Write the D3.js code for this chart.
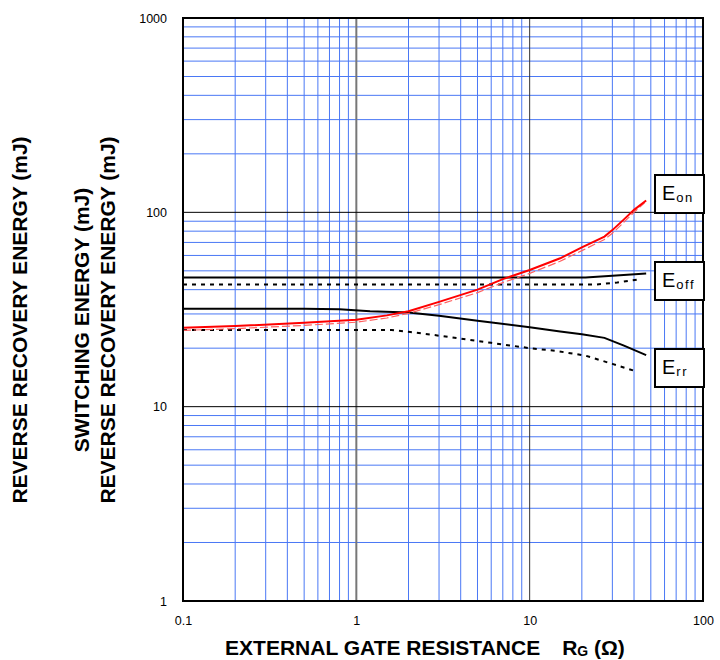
<!DOCTYPE html>
<html>
<head>
<meta charset="utf-8">
<script src="https://cdn.jsdelivr.net/npm/d3@7"></script>
<style>
body { margin: 0; background: #fff; }
svg { display: block; font-family: "Liberation Sans", Arial, sans-serif; }
</style>
</head>
<body>
<svg width="720" height="660"></svg>
<script>
// values (Rg in ohm, energy in mJ)
var rgTicks = [0.1, 1, 10, 100];
var energyTicks = [1, 10, 100, 1000];

var eonRg      = [0.1, 0.2, 0.5, 1, 1.5, 2, 3, 5, 7, 10, 15, 20, 27, 30, 35, 40, 47];
var eonSolid   = [25.5, 26.0, 27.0, 28.0, 29.5, 31.0, 34.6, 40.0, 45.3, 50.5, 58, 66, 75, 81, 92, 103, 115];
var eonDashRg  = [0.1, 0.2, 0.5, 1, 1.5, 2, 3, 5, 7, 10, 15, 20, 27, 30, 35, 40, 46];
var eonDash    = [24.7, 25.2, 26.2, 27.2, 28.6, 30.2, 33.5, 38.6, 43.5, 48.5, 56, 63.5, 72.5, 78, 89, 100, 112];

var eoffRg     = [0.1, 21, 30, 47];
var eoffSolid  = [46.2, 46.2, 47.2, 48.5];
var eoffDashRg = [0.1, 24, 32, 44];
var eoffDash   = [42.5, 42.5, 43.5, 45.4];

var errRg      = [0.1, 0.5, 0.8, 1.2, 2, 3, 5, 10, 15, 20, 27, 35, 47];
var errSolid   = [31.9, 31.9, 31.7, 31.0, 30.5, 29.4, 27.7, 25.6, 24.4, 23.6, 22.6, 20.6, 18.4];
var errDashRg  = [0.1, 1.6, 2, 2.5, 4, 6, 10, 14, 21, 30, 42];
var errDash    = [24.8, 24.8, 24.3, 23.7, 22.4, 21.3, 20.0, 19.4, 18.3, 16.6, 15.1];

var labelNames = [["E", "on"], ["E", "off"], ["E", "rr"]];

var svg = d3.select("svg");
var plotL = 183, plotR = 703, plotT = 18, plotB = 601;

var x = d3.scaleLog().domain([0.1, 100]).range([plotL, plotR]);
var y = d3.scaleLog().domain([1, 1000]).range([plotB, plotT]);

function isDecade(v) {
  var l = Math.log10(v);
  return Math.abs(l - Math.round(l)) < 1e-9;
}

// minor grid (blue)
var grid = svg.append("g").attr("class", "grid");
grid.selectAll("line.vx")
  .data(x.ticks().filter(function(d) { return !isDecade(d); }))
  .enter().append("line")
    .attr("x1", function(d) { return x(d); })
    .attr("x2", function(d) { return x(d); })
    .attr("y1", plotT).attr("y2", plotB)
    .attr("stroke", "#4a78f5").attr("stroke-width", 1);

grid.selectAll("line.hy")
  .data(y.ticks().filter(function(d) { return !isDecade(d); }))
  .enter().append("line")
    .attr("y1", function(d) { return y(d); })
    .attr("y2", function(d) { return y(d); })
    .attr("x1", plotL).attr("x2", plotR)
    .attr("stroke", "#4a78f5").attr("stroke-width", 1);

// decade lines
grid.append("line")
  .attr("x1", x(1)).attr("x2", x(1)).attr("y1", plotT).attr("y2", plotB)
  .attr("stroke", "#777").attr("stroke-width", 2);
grid.append("line")
  .attr("x1", x(10)).attr("x2", x(10)).attr("y1", plotT).attr("y2", plotB)
  .attr("stroke", "#333").attr("stroke-width", 1);
grid.selectAll("line.major")
  .data([10, 100])
  .enter().append("line")
    .attr("y1", function(d) { return y(d); })
    .attr("y2", function(d) { return y(d); })
    .attr("x1", plotL).attr("x2", plotR)
    .attr("stroke", "#000").attr("stroke-width", 1);

// curves
var line = d3.line()
  .x(function(d) { return x(d[0]); })
  .y(function(d) { return y(d[1]); });

var curves = [
  { rg: eoffRg,     v: eoffSolid, color: "#000",    w: 2,   dash: null },
  { rg: eoffDashRg, v: eoffDash,  color: "#000",    w: 2,   dash: "4,5" },
  { rg: errRg,      v: errSolid,  color: "#000",    w: 2,   dash: null },
  { rg: errDashRg,  v: errDash,   color: "#000",    w: 2,   dash: "4,5" },
  { rg: eonDashRg,  v: eonDash,   color: "#ff6060", w: 1.2, dash: "8,3" },
  { rg: eonRg,      v: eonSolid,  color: "#ff0000", w: 2,   dash: null }
];

svg.append("g").selectAll("path")
  .data(curves)
  .enter().append("path")
    .attr("d", function(c) { return line(d3.zip(c.rg, c.v)); })
    .attr("fill", "none")
    .attr("stroke", function(c) { return c.color; })
    .attr("stroke-width", function(c) { return c.w; })
    .attr("stroke-dasharray", function(c) { return c.dash; });

// frame
svg.append("rect")
  .attr("x", plotL).attr("y", plotT)
  .attr("width", plotR - plotL).attr("height", plotB - plotT)
  .attr("fill", "none").attr("stroke", "#000").attr("stroke-width", 2);

// tick labels
var fmt = function(d) { return d < 1 ? "0.1" : String(d); };

var xAxis = svg.append("g")
  .attr("transform", "translate(0," + plotB + ")")
  .call(d3.axisBottom(x).tickValues(rgTicks).tickFormat(fmt).tickSize(0).tickPadding(15));
var yAxis = svg.append("g")
  .attr("transform", "translate(" + plotL + ",0)")
  .call(d3.axisLeft(y).tickValues(energyTicks).tickFormat(fmt).tickSize(0).tickPadding(16));
[xAxis, yAxis].forEach(function(a) {
  a.select(".domain").remove();
  a.selectAll("text")
    .attr("font-family", "Liberation Sans, Arial, sans-serif")
    .attr("font-size", 12.5)
    .attr("fill", "#000");
});

// axis titles
var xt = svg.append("text")
  .attr("x", 425).attr("y", 655)
  .attr("text-anchor", "middle")
  .attr("font-weight", "bold").attr("font-size", 21);
xt.append("tspan").text("EXTERNAL GATE RESISTANCE");
xt.append("tspan").attr("dx", 22).text("R");
xt.append("tspan").attr("font-size", 14).attr("dy", 1).text("G");
xt.append("tspan").attr("dy", -1).text(" (\u03A9)");

var yTitles = [
  { x: 27, text: "REVERSE RECOVERY ENERGY (mJ)" },
  { x: 89, text: "SWITCHING ENERGY (mJ)" },
  { x: 115, text: "REVERSE RECOVERY ENERGY (mJ)" }
];
svg.selectAll("text.ytitle")
  .data(yTitles)
  .enter().append("text")
    .attr("class", "ytitle")
    .attr("transform", function(d) { return "translate(" + d.x + ",320) rotate(-90)"; })
    .attr("text-anchor", "middle")
    .attr("font-weight", "bold").attr("font-size", 21)
    .text(function(d) { return d.text; });

// curve labels
var boxTops = [175, 262, 349];
var boxes = svg.selectAll("g.lbl")
  .data(labelNames)
  .enter().append("g")
    .attr("class", "lbl")
    .attr("transform", function(d, i) { return "translate(655," + boxTops[i] + ")"; });
boxes.append("rect")
  .attr("width", 49).attr("height", 38)
  .attr("fill", "#fff").attr("stroke", "#000").attr("stroke-width", 2);
var lt = boxes.append("text")
  .attr("x", 7).attr("y", 25)
  .attr("font-size", 20);
lt.append("tspan").text(function(d) { return d[0]; });
lt.append("tspan")
  .attr("font-size", 13).attr("dy", 2).attr("dx", 1)
  .attr("letter-spacing", 1.5)
  .text(function(d) { return d[1]; });
</script>
</body>
</html>
